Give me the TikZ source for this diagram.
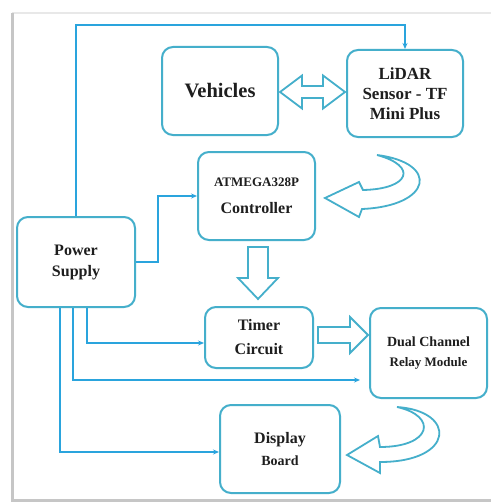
\documentclass[tikz,border=0pt]{standalone}
\usepackage{fontspec}
\setmainfont{Liberation Serif}
\usetikzlibrary{arrows.meta,calc}
\definecolor{boxc}{HTML}{45AFCB}
\definecolor{linec}{HTML}{2AA4DD}
\definecolor{txtc}{HTML}{1E1E1E}
\tikzset{
  blk/.style={draw=boxc, line width=2pt, rounded corners=11pt, fill=white, align=center, text=txtc, inner sep=2pt},
  pl/.style={draw=linec, line width=2pt, -{Stealth[length=6pt,width=5pt]}},
  barrow/.style={draw=boxc, line width=1.8pt, fill=white, line join=miter},
}
\newcommand{\fs}[2]{\fontsize{#1}{#2}\selectfont}
\begin{document}
\begin{tikzpicture}[x=1pt,y=-1pt]
\useasboundingbox (0,0) rectangle (491,503);
\fill[white] (0,0) rectangle (491,503);
% page frame / shadow
\draw[gray!18, line width=1.2pt] (12,13) -- (491,13);
\draw[gray!45, line width=3pt] (12,13) -- (12,500) -- (491,500);

% blocks
\node[blk, font=\bfseries\fs{20.5}{22}, minimum width=116pt, minimum height=88pt] (veh) at (220,91) {Vehicles};
\node[blk, font=\bfseries\fs{17}{20}, minimum width=116pt, minimum height=87pt] (lidar) at (405,93.5) {LiDAR\\Sensor - TF\\Mini Plus};
\node[blk, font=\bfseries\fs{16}{27}, minimum width=117pt, minimum height=88pt] (atm) at (256.5,196) {{\fs{13}{27}ATMEGA328P}\\Controller};
\node[blk, font=\bfseries\fs{16}{21}, minimum width=118pt, minimum height=90pt] (pow) at (76,262) {Power\\Supply};
\node[blk, font=\bfseries\fs{16}{24}, minimum width=108pt, minimum height=61pt] (timer) at (259,337.5) {Timer\\Circuit};
\node[blk, font=\bfseries\fs{14}{20}, minimum width=117pt, minimum height=90pt] (relay) at (428.5,353) {Dual Channel\\{\fs{13}{20}Relay Module}};
\node[blk, font=\bfseries\fs{16}{22}, minimum width=120pt, minimum height=88pt] (disp) at (280,449) {Display\\{\fs{14}{22}Board}};

% power lines
\coordinate (topy) at (0,25);
\coordinate (j1) at (158,0);
\draw[pl] (pow.north) |- (lidar.north |- topy) -- (lidar.north);
\draw[pl] (pow.east) -| (j1 |- atm.west) -- (atm.west);
\draw[pl] ([xshift=11pt]pow.south) |- ([yshift=-5.5pt]timer.west);
\draw[pl, shorten >=9pt] ([xshift=-3pt]pow.south) |- ([yshift=-27pt]relay.west);
\draw[pl] ([xshift=-16pt]pow.south) |- ([yshift=-3pt]disp.west);

% block arrows
\draw[barrow] (280,92) -- (302,75.5) -- (302,86) -- (323,86) -- (323,75.5) -- (345,92) -- (323,108.5) -- (323,98) -- (302,98) -- (302,108.5) -- cycle;
\draw[barrow] (248,247) -- (268,247) -- (268,278) -- (278,278) -- (258,299) -- (238,278) -- (248,278) -- cycle;
\draw[barrow] (318,327) -- (350,327) -- (350,317) -- (368,335) -- (350,353) -- (350,343) -- (318,343) -- cycle;
\draw[barrow] (377,155) .. controls (440,163) and (432,206) .. (362,209) -- (359,217) -- (325,198) -- (359,182) -- (363,190) .. controls (410,189) and (418,166) .. cycle;
\draw[barrow] (397,407) .. controls (457,411) and (455,462) .. (380,462) -- (380,473) -- (347,455) -- (378,436) -- (380,447) .. controls (432,447) and (438,416) .. cycle;
\end{tikzpicture}
\end{document}
